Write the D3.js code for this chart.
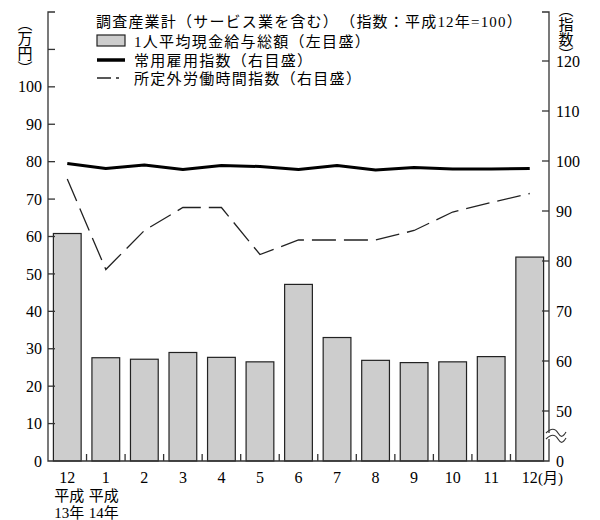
<!DOCTYPE html>
<html><head><meta charset="utf-8">
<script src="https://cdn.jsdelivr.net/npm/d3@7"></script>
<style>
html,body{margin:0;padding:0;background:#fff;}
svg{display:block;font-family:"Liberation Serif","Noto Sans CJK JP",serif;}
</style></head>
<body>
<svg id="c" width="600" height="520"></svg>
<script>
const months = ["12","1","2","3","4","5","6","7","8","9","10","11","12"];
const yearNotes = [["平成","13年"],["平成","14年"]];
const wages = [60.8,27.6,27.2,29.0,27.7,26.5,47.2,33.0,26.9,26.3,26.5,27.9,54.5];
const employment = [99.5,98.5,99.2,98.3,99.1,98.9,98.3,99.1,98.2,98.7,98.4,98.4,98.5];
const overtime = [96.4,78.3,86.1,90.7,90.7,81.3,84.2,84.2,84.2,86.1,89.8,91.7,93.5];
const leftLabels = [0,10,20,30,40,50,60,70,80,90,100];
const leftTicks = [10,20,30,40,50,60,70,80,90,100,110];
const rightLabels = [0,50,60,70,80,90,100,110,120];
const rightTicks = [50,60,70,80,90,100,110,120];
const titleText = "調査産業計（サービス業を含む）　（指数：平成12年=100）";
const legendNames = ["1人平均現金給与総額（左目盛）","常用雇用指数（右目盛）","所定外労働時間指数（右目盛）"];
const leftUnit = "（万円）", rightUnit = "（指数）", monthUnit = "(月)";

const svg = d3.select("#c");
const X0 = 48, X1 = 549, Y0 = 461, YT = 12;
const axisColor = "#333";

const x = d3.scaleBand().domain(d3.range(months.length)).range([X0, X1]).paddingInner(0.28).paddingOuter(0.14);
const yL = d3.scaleLinear().domain([0,120]).range([Y0, YT]);
const yR = d3.scaleLinear().domain([0,50,130]).range([Y0, 411, 11]);

// bars
svg.append("g").selectAll("rect").data(wages).join("rect")
  .attr("x",(d,i)=>x(i)).attr("width",x.bandwidth())
  .attr("y",d=>yL(d)).attr("height",d=>Y0-yL(d))
  .attr("fill","#cdcdcd").attr("stroke","#222").attr("stroke-width",1.2);

const cx = i => x(i)+x.bandwidth()/2;
// lines
const line = d3.line().x((d,i)=>cx(i)).y(d=>yR(d));
svg.append("path").datum(employment).attr("d",line).attr("fill","none")
  .attr("stroke","#000").attr("stroke-width",3).attr("stroke-linejoin","round");
svg.append("path").datum(overtime).attr("d",line).attr("fill","none")
  .attr("stroke","#222").attr("stroke-width",1.3).attr("stroke-dasharray","24,8");

// axes
const ax = svg.append("g").attr("stroke",axisColor).attr("stroke-width",1.3).attr("fill","none");
ax.append("path").attr("d",`M${X0+7},${YT}H${X0}V${Y0}H${X1}V${YT}H${X1-7}`);
leftTicks.forEach(v=>ax.append("line").attr("x1",X0).attr("x2",X0+7).attr("y1",yL(v)).attr("y2",yL(v)));
rightTicks.forEach(v=>ax.append("line").attr("x1",X1).attr("x2",X1-7).attr("y1",yR(v)).attr("y2",yR(v)));
// band boundary ticks
d3.range(1,months.length).forEach(i=>{
  const bx = X0 + i*x.step();
  ax.append("line").attr("x1",bx).attr("x2",bx).attr("y1",Y0).attr("y2",Y0-7);
});
// axis break
const by = 436;
svg.append("rect").attr("x",X1-2).attr("y",by-3).attr("width",5).attr("height",6).attr("fill","#fff");
const wave = o => `M${X1-3},${by+o} C${X1+2},${by+o-5} ${X1+6},${by+o-5} ${X1+9},${by+o} S${X1+14},${by+o+4} ${X1+17},${by+o-1}`;
svg.append("path").attr("d",wave(-3)).attr("fill","none").attr("stroke",axisColor).attr("stroke-width",1.2);
svg.append("path").attr("d",wave(3)).attr("fill","none").attr("stroke",axisColor).attr("stroke-width",1.2);

// tick labels
svg.append("g").selectAll("text").data(leftLabels).join("text")
  .attr("x",42).attr("y",d=>yL(d)).attr("dy","0.35em").attr("text-anchor","end")
  .attr("font-size",16).text(d=>d);
svg.append("g").selectAll("text").data(rightLabels).join("text")
  .attr("x",556).attr("y",d=>yR(d)).attr("dy","0.35em").attr("text-anchor","start")
  .attr("font-size",16).text(d=>d);
svg.append("g").selectAll("text").data(months).join("text")
  .attr("x",(d,i)=>cx(i)).attr("y",483).attr("text-anchor","middle")
  .attr("font-size",16).text(d=>d);
svg.append("text").attr("x",538).attr("y",483).attr("font-size",15).text(monthUnit);
yearNotes.forEach((n,i)=>{
  n.forEach((s,j)=>svg.append("text").attr("x",cx(i)+(i===0?2:-2)).attr("y",501+j*17)
    .attr("text-anchor","middle").attr("font-size",15).text(s));
});

// unit labels (vertical)
svg.append("text").attr("x",25).attr("y",16).attr("font-size",15)
  .style("writing-mode","vertical-rl").style("font-family","'Noto Sans CJK JP'").text(leftUnit);
svg.append("text").attr("x",566).attr("y",2).attr("font-size",15)
  .style("writing-mode","vertical-rl").style("font-family","'Noto Sans CJK JP'").text(rightUnit);

// legend
svg.append("text").attr("x",96).attr("y",27).attr("font-size",15).attr("letter-spacing",1.2).text(titleText);
const ly = [41,60,78];
svg.append("rect").attr("x",97).attr("y",35).attr("width",28).attr("height",11)
  .attr("fill","#cdcdcd").attr("stroke","#222").attr("stroke-width",1.2);
svg.append("line").attr("x1",97).attr("x2",125).attr("y1",ly[1]).attr("y2",ly[1]).attr("stroke","#000").attr("stroke-width",3.5);
svg.append("line").attr("x1",97).attr("x2",125).attr("y1",ly[2]).attr("y2",ly[2]).attr("stroke","#222").attr("stroke-width",1.3).attr("stroke-dasharray","14,5,3,8");
legendNames.forEach((s,i)=>svg.append("text").attr("x",134).attr("y",ly[i]+6).attr("font-size",15).attr("letter-spacing",1.3).text(s));
</script>
</body></html>
